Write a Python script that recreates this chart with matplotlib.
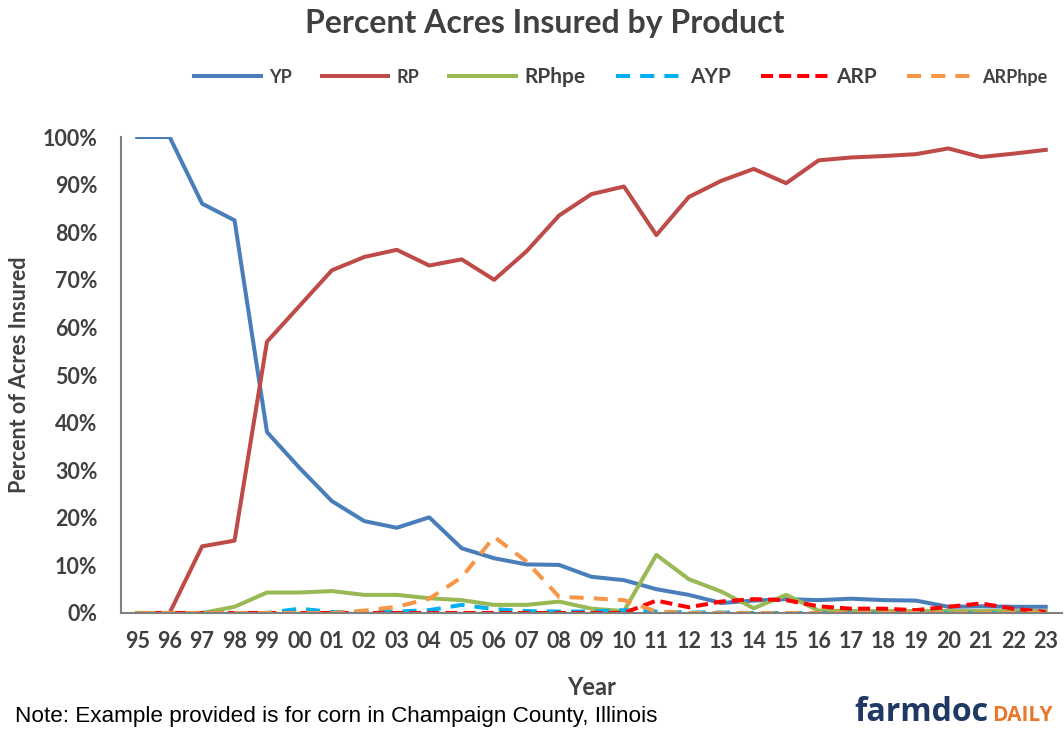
import numpy as np
import matplotlib.pyplot as plt

years = ['95', '96', '97', '98', '99', '00', '01', '02', '03', '04', '05', '06', '07', '08', '09',
         '10', '11', '12', '13', '14', '15', '16', '17', '18', '19', '20', '21', '22', '23']

yp = [100, 100, 86, 82.5, 38, 30.5, 23.5, 19.3, 17.9, 20.1, 13.6, 11.5, 10.2, 10.1, 7.6,
      6.9, 5.0, 3.8, 2.1, 2.6, 2.9, 2.7, 3.0, 2.7, 2.6, 1.3, 1.4, 1.3, 1.3]
rp = [0, 0, 14.0, 15.2, 57.0, 64.5, 72.0, 74.8, 76.3, 73.0, 74.3, 70.0, 76.0, 83.5, 88.0,
      89.6, 79.4, 87.4, 90.8, 93.3, 90.3, 95.1, 95.7, 96.0, 96.4, 97.6, 95.8, 96.5, 97.3]
rphpe = [0, 0, 0, 1.3, 4.3, 4.3, 4.6, 3.8, 3.8, 3.1, 2.7, 1.7, 1.7, 2.4, 0.9,
         0.4, 12.2, 7.1, 4.5, 1.0, 3.8, 0.5, 0.4, 0.4, 0.4, 0.4, 0.4, 0.4, 0.4]
ayp = [0, 0, 0, 0, 0, 0.9, 0.2, 0.2, 0.3, 0.6, 1.7, 0.8, 0.4, 0.3, 0.3,
       0.6, 0.3, 0.1, 0.1, 0, 0, 0, 0, 0, 0, 0, 0, 0, 0]
arp = [0, 0, 0, 0, 0, 0, 0, 0, 0, 0, 0, 0, 0, 0, 0,
       0, 2.6, 1.2, 2.4, 2.9, 2.7, 1.4, 0.9, 0.9, 0.6, 1.3, 2.0, 0.9, 0.2]
arphpe = [0, 0, 0, 0, 0, 0, 0, 0.5, 1.3, 3.0, 7.5, 16.0, 10.8, 3.4, 3.1,
          2.7, 0.3, 0, 0, 0, 0, 0, 0, 0, 0, 0, 0, 0, 0]

x = np.arange(len(years))
fnt = 'Lato'
grey = '#404040'

fig = plt.figure(figsize=(10.64, 7.3), dpi=100)
ax = fig.add_axes([0.1137, 0.1603, 0.8844, 0.652])

lw = 2.9
ax.plot(x, yp, color='#4A7EBB', lw=lw, label='YP')
ax.plot(x, rp, color='#BE4B48', lw=lw, label='RP')
ax.plot(x, rphpe, color='#98B954', lw=lw, label='RPhpe')
ax.plot(x, ayp, color='#00B0F0', lw=lw, ls=(0, (3.5, 2.5)), label='AYP')
ax.plot(x, arp, color='#FF0000', lw=lw, ls=(0, (3, 1.5)), label='ARP')
ax.plot(x, arphpe, color='#F79646', lw=lw, ls=(0, (3.5, 2.5)), label='ARPhpe')

ax.set_xlim(-0.5, len(years) - 0.5)
ax.set_ylim(0, 100)
ax.set_xticks(x)
ax.set_xticklabels(years)
ax.set_yticks(np.arange(0, 101, 10))
ax.set_yticklabels(['{}%'.format(v) for v in range(0, 101, 10)])
ax.tick_params(length=0, labelsize=15.5, colors=grey)
ax.tick_params(axis='x', pad=13)
ax.tick_params(axis='y', pad=17)
for lab in ax.get_xticklabels() + ax.get_yticklabels():
    lab.set_fontfamily(fnt)
    lab.set_fontweight('bold')

for side in ['top', 'right']:
    ax.spines[side].set_visible(False)
for side in ['left', 'bottom']:
    ax.spines[side].set_color('#808080')
    ax.spines[side].set_linewidth(1.5)

# y label: right edge of the rotated text sits at the given x
ax.set_ylabel('Percent of Acres Insured', fontsize=15.5, fontweight='bold', family=fnt,
              color=grey)
ax.yaxis.set_label_coords(-0.097, 0.5)
fig.text(0.556, 0.058, 'Year', fontsize=17, fontweight='bold', family=fnt,
         color=grey, ha='center', va='center')

fig.text(0.512, 0.968, 'Percent Acres Insured by Product', fontsize=23, fontweight='bold',
         family=fnt, color=grey, ha='center', va='center')

leg = ax.legend(loc='center', bbox_to_anchor=(0.531, 1.126), ncol=6, frameon=False,
                handlelength=3.2, columnspacing=1.44, handletextpad=0.4,
                prop={'family': fnt, 'weight': 'bold', 'size': 15})
for t in leg.get_texts():
    t.set_color(grey)
for i in [0, 1, 5]:
    leg.get_texts()[i].set_fontsize(13)

fig.text(0.014, 0.018, 'Note: Example provided is for corn in Champaign County, Illinois',
         fontsize=16.2, family='Liberation Sans', color='black', ha='left', va='center')
fig.text(0.803, 0.013, 'farmdoc', fontsize=23, fontweight='bold', family='Open Sans',
         color='#1F3864', ha='left', va='baseline')
fig.text(0.932, 0.013, 'DAILY', fontsize=15, fontweight='bold', family='Open Sans',
         color='#E8792B', ha='left', va='baseline')

fig.savefig('out.png', dpi=100)
